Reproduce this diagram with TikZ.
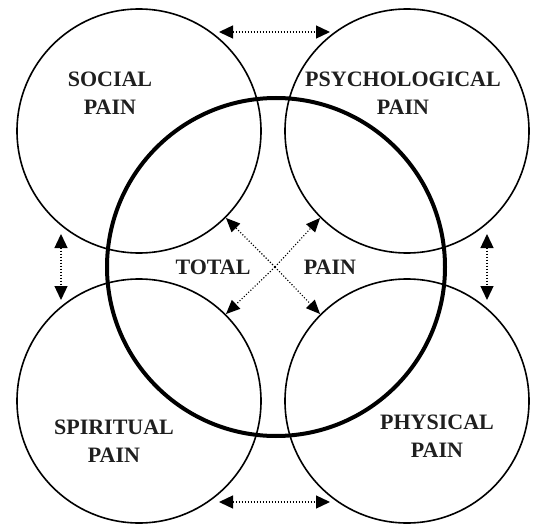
\documentclass[tikz,border=0pt]{standalone}
\usepackage{fontspec}
\setmainfont{Liberation Serif}
\usetikzlibrary{arrows.meta}
\tikzset{ring/.style={draw,circle,line width=1.6pt,minimum size=244pt,inner sep=0pt,outer sep=0pt},bigring/.style={draw,circle,line width=4pt,minimum size=338pt,inner sep=0pt,outer sep=0pt},lbl/.style={font=\bfseries\fontsize{22}{28}\selectfont,align=center,text=black!88},arr/.style={{Triangle[length=14pt,width=13pt]}-{Triangle[length=14pt,width=13pt]},line width=1.3pt,dash pattern=on 1.3pt off 1.7pt},ray/.style={-{Triangle[length=14pt,width=12pt]},line width=1.1pt,dash pattern=on 1.1pt off 1.9pt,shorten >=1pt}}

\begin{document}
\begin{tikzpicture}[x=1pt,y=-1pt]
\useasboundingbox (0,0) rectangle (533,524);
\node[ring] (social) at (139,131) {};
\node[ring] (psych) at (407,131) {};
\node[ring] (spirit) at (139,401) {};
\node[ring] (phys) at (407,401) {};
\node[bigring] (total) at (276,267) {};
\node[lbl] (sociallbl) at (110,93) {SOCIAL\\PAIN};
\node[lbl] (psychlbl) at (403,93) {PSYCHOLOGICAL\\PAIN};
\node[lbl] (spiritlbl) at (114,441) {SPIRITUAL\\PAIN};
\node[lbl] (physlbl) at (437,436) {PHYSICAL\\PAIN};
\node[lbl] (totallbl) at (213,267) {TOTAL};
\node[lbl] (painlbl) at (330,267) {PAIN};
\coordinate (hub) at (275,267);
\coordinate (topl) at (219,32);
\coordinate (topr) at (330,32);
\coordinate (botl) at (219,502);
\coordinate (botr) at (330,502);
\coordinate (lefu) at (61,234);
\coordinate (lefd) at (61,300);
\coordinate (rigu) at (487,234);
\coordinate (rigd) at (487,300);
\draw[arr](topl)--(topr);
\draw[arr](botl)--(botr);
\draw[arr](lefu)--(lefd);
\draw[arr](rigu)--(rigd);
\draw[ray](hub)--(social.-45);
\draw[ray](hub)--(psych.-135);
\draw[ray](hub)--(spirit.45);
\draw[ray](hub)--(phys.135);
\end{tikzpicture}
\end{document}
